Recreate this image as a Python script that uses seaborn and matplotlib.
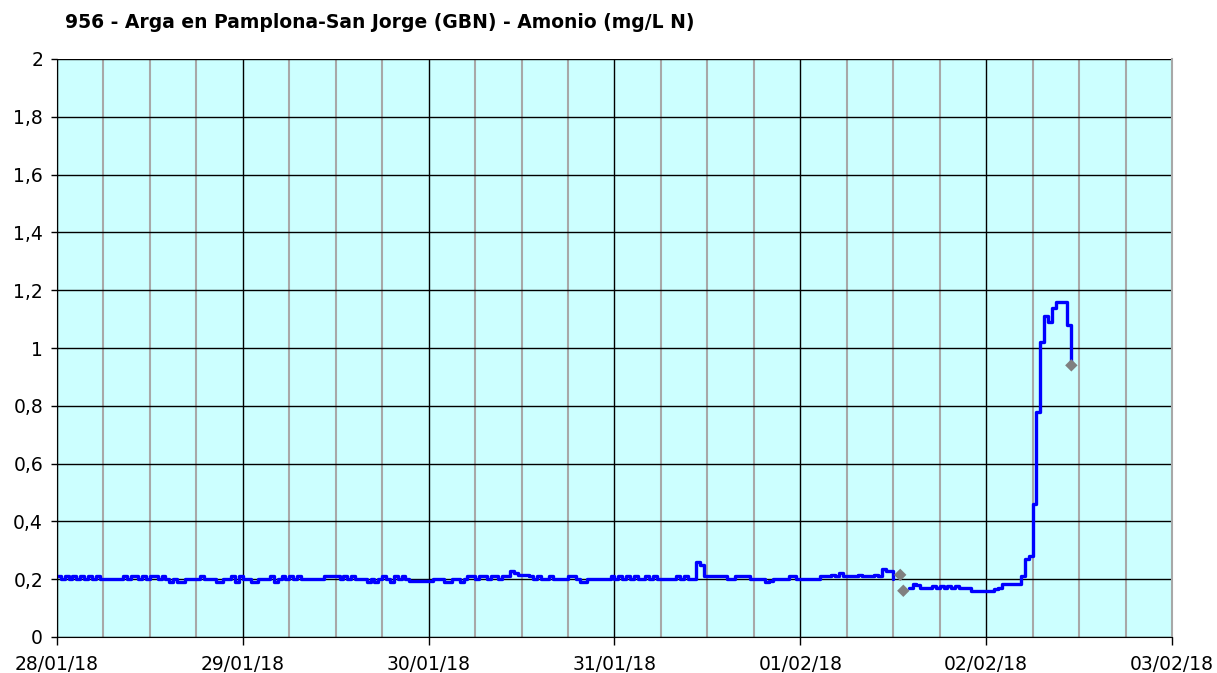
import pandas as pd
import numpy as np
import matplotlib
matplotlib.use('Agg')
import matplotlib.pyplot as plt
import matplotlib.dates as mdates
import seaborn as sns

nan = np.nan

# half-hourly readings (mg/L N), one list per day
day_28_01 = [0.21, 0.2, 0.21, 0.2, 0.21, 0.2, 0.21, 0.2, 0.21, 0.2, 0.21, 0.2,
             0.2, 0.2, 0.2, 0.2, 0.2,
             0.21, 0.2, 0.21, 0.21, 0.2, 0.21, 0.2, 0.21, 0.21, 0.2, 0.21, 0.2,
             0.19, 0.2, 0.19, 0.19, 0.2,
             0.2, 0.2, 0.2, 0.21, 0.2, 0.2, 0.2,
             0.19, 0.19, 0.2,
             0.2, 0.21, 0.19, 0.21]
day_29_01 = [0.2, 0.2, 0.19, 0.19, 0.2, 0.2, 0.2, 0.21, 0.19, 0.2,
             0.21, 0.2, 0.21, 0.2, 0.21, 0.2, 0.2,
             0.2, 0.2, 0.2, 0.2, 0.21, 0.21, 0.21, 0.21,
             0.2, 0.21, 0.2, 0.21, 0.2, 0.2, 0.2,
             0.19, 0.2, 0.19, 0.2,
             0.21, 0.2, 0.19, 0.21, 0.2, 0.21, 0.2,
             0.195, 0.195, 0.195, 0.195, 0.195]
day_30_01 = [0.195, 0.2, 0.2, 0.2, 0.19, 0.19, 0.2, 0.2, 0.19, 0.2,
             0.21, 0.21, 0.2, 0.21, 0.21, 0.2, 0.21, 0.21, 0.2, 0.21, 0.21,
             0.23, 0.22, 0.215, 0.215, 0.215, 0.21,
             0.2, 0.21, 0.2, 0.2, 0.21, 0.2, 0.2, 0.2, 0.2, 0.21,
             0.21, 0.2, 0.19, 0.19,
             0.2, 0.2, 0.2, 0.2, 0.2, 0.2, 0.21]
day_31_01 = [0.2, 0.21, 0.2, 0.21, 0.2, 0.21, 0.2, 0.2, 0.21, 0.2, 0.21, 0.2, 0.2,
             0.2, 0.2, 0.2,
             0.21, 0.2, 0.21, 0.2, 0.2,
             0.26, 0.25,
             0.21, 0.21, 0.21, 0.21, 0.21, 0.21,
             0.2, 0.2, 0.21, 0.21, 0.21, 0.21,
             0.2, 0.2, 0.2, 0.2, 0.19, 0.195,
             0.2, 0.2, 0.2, 0.2, 0.21, 0.21, 0.2]
day_01_02 = [0.2, 0.2, 0.2, 0.2, 0.2,
             0.21, 0.21, 0.21, 0.215, 0.21, 0.22, 0.21, 0.21, 0.21, 0.21, 0.215, 0.21,
             0.21, 0.21, 0.215, 0.21,
             0.235, 0.23, 0.23, 0.2,
             nan, nan, nan,
             0.17, 0.185, 0.18, 0.17, 0.17, 0.17,
             0.175, 0.17, 0.175, 0.17, 0.175, 0.17, 0.175, 0.17,
             0.17, 0.17, 0.16, 0.16, 0.16, 0.16]
day_02_02 = [0.16, 0.16, 0.165, 0.17, 0.185, 0.185, 0.185, 0.185, 0.185,
             0.21, 0.27, 0.28, 0.46, 0.78, 1.02, 1.11, 1.09, 1.14,
             1.16, 1.16, 1.16, 1.08, 0.94]

# flagged readings (grey diamonds)
flag_times = ['2018-02-01 12:54', '2018-02-01 13:18', '2018-02-02 11:00']
flag_values = [0.215, 0.16, 0.94]

title = '956 - Arga en Pamplona-San Jorge (GBN) - Amonio (mg/L N)'

values = day_28_01 + day_29_01 + day_30_01 + day_31_01 + day_01_02 + day_02_02
df = pd.DataFrame({
    'time': pd.date_range('2018-01-28', periods=len(values), freq='30min'),
    'value': values,
})
df['segment'] = df['value'].isna().cumsum()
df = df.dropna()

flags = pd.DataFrame({'time': pd.to_datetime(flag_times), 'value': flag_values})

sns.set_style('white')
plt.rcParams['font.family'] = ['DejaVu Sans']
plt.rcParams['text.color'] = 'black'
plt.rcParams['xtick.color'] = 'black'
plt.rcParams['ytick.color'] = 'black'

fig = plt.figure(figsize=(12.17, 6.73), dpi=100)
ax = fig.add_axes([57 / 1217, 1 - 637 / 673, (1172 - 57) / 1217, (637 - 59) / 673])
ax.set_facecolor('#CCFFFF')

sns.lineplot(data=df, x='time', y='value', units='segment', estimator=None,
             color='#0000FF', linewidth=2.4, drawstyle='steps-post', ax=ax)
sns.scatterplot(data=flags, x='time', y='value', marker='D', color='#808080',
                s=40, edgecolor='none', zorder=5, ax=ax)

ax.set_xlim(pd.Timestamp('2018-01-28'), pd.Timestamp('2018-02-03'))
ax.set_ylim(0, 2)
ax.xaxis.set_major_locator(mdates.DayLocator())
ax.xaxis.set_minor_locator(mdates.HourLocator(byhour=[6, 12, 18]))
ax.xaxis.set_major_formatter(mdates.DateFormatter('%d/%m/%y'))
yt = np.arange(0, 2.01, 0.2)
ax.set_yticks(yt)
ax.set_yticklabels([('%g' % round(v, 1)).replace('.', ',') for v in yt])

ax.grid(True, which='major', color='black', linewidth=1.0)
ax.grid(True, which='minor', axis='x', color='#A8A8A8', linewidth=1.5)
ax.set_axisbelow(True)

ax.tick_params(axis='x', which='major', direction='out', length=6, width=1,
               color='black', labelsize=13.5, pad=7, bottom=True)
ax.tick_params(axis='x', which='minor', length=0)
ax.tick_params(axis='y', direction='out', length=4, width=1, color='black',
               labelsize=13.5, pad=6, left=True)
ax.set_xlabel('')
ax.set_ylabel('')

ax.spines['top'].set_visible(False)
ax.spines['right'].set_color('#A8A8A8')
ax.spines['right'].set_linewidth(1.5)
ax.spines['left'].set_color('black')
ax.spines['bottom'].set_color('black')

fig.text(65 / 1217, 1 - 22 / 673, title, fontsize=13.5, fontweight='bold',
         color='black', ha='left', va='center')

fig.savefig('out.png', dpi=100)
